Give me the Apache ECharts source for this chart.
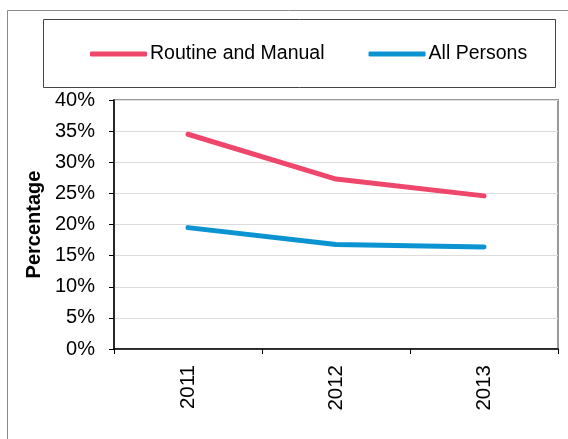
<!DOCTYPE html>
<html>
<head>
<meta charset="utf-8">
<script src="https://cdn.jsdelivr.net/npm/echarts@6/dist/echarts.min.js"></script>
<style>
  html, body { margin: 0; padding: 0; background: #fff; }
  #chart { width: 568px; height: 439px; }
</style>
</head>
<body>
<div id="chart"></div>
<script>
// Share of people (%) by year
const years = ['2011', '2012', '2013'];
const routineManual = [34.5, 27.3, 24.6];
const allPersons = [19.5, 16.8, 16.4];
const seriesNames = ['Routine and Manual', 'All Persons'];
const seriesColors = ['#EF476B', '#0B93D2'];

const font = 'Liberation Sans, Arial, sans-serif';
const chart = echarts.init(document.getElementById('chart'), null, { renderer: 'canvas' });

chart.setOption({
  animation: false,
  backgroundColor: '#fff',
  graphic: [
    // outer chart frame
    { type: 'rect', shape: { x: 7.5, y: 10.5, width: 600, height: 500 },
      style: { fill: 'none', stroke: '#8a8a8a', lineWidth: 1 }, z: -1 },
    // legend frame
    { type: 'rect', shape: { x: 43.5, y: 19.5, width: 512, height: 68 },
      style: { fill: 'none', stroke: '#444', lineWidth: 1 }, z: -1 }
  ],
  legend: {
    top: 39,
    left: 85,
    itemWidth: 57,
    itemHeight: 5,
    itemGap: 44,
    icon: 'roundRect',
    textStyle: { fontFamily: font, fontSize: 19.5, color: '#000', padding: [0, 0, 0, -2] },
    data: seriesNames
  },
  grid: {
    left: 114, right: 10, top: 100, bottom: 90,
    show: true, borderColor: '#9a9a9a', borderWidth: 2, backgroundColor: '#fff'
  },
  xAxis: {
    type: 'category',
    data: years,
    boundaryGap: true,
    axisLine: { lineStyle: { color: '#000', width: 1.5 } },
    axisTick: { show: true, length: 5, lineStyle: { color: '#000' } },
    axisLabel: { rotate: 90, margin: 16, fontFamily: font, fontSize: 20.5, color: '#000' },
    splitLine: { show: false }
  },
  yAxis: {
    type: 'value',
    min: 0, max: 40, interval: 5,
    name: 'Percentage',
    nameLocation: 'middle',
    nameGap: 70,
    nameRotate: 90,
    nameTextStyle: { fontFamily: font, fontSize: 20, fontWeight: 'bold', color: '#000' },
    axisLine: { show: true, lineStyle: { color: '#000', width: 1.5 } },
    axisTick: { show: true, length: 5, lineStyle: { color: '#000' } },
    axisLabel: { margin: 19, fontFamily: font, fontSize: 20, color: '#000',
      formatter: v => v + '%' },
    splitLine: { lineStyle: { color: '#dcdcdc', width: 1 } }
  },
  series: [
    { name: seriesNames[0], type: 'line', data: routineManual, color: seriesColors[0],
      symbol: 'none', lineStyle: { width: 5, cap: 'round' } },
    { name: seriesNames[1], type: 'line', data: allPersons, color: seriesColors[1],
      symbol: 'none', lineStyle: { width: 5, cap: 'round' } }
  ]
});
</script>
</body>
</html>
